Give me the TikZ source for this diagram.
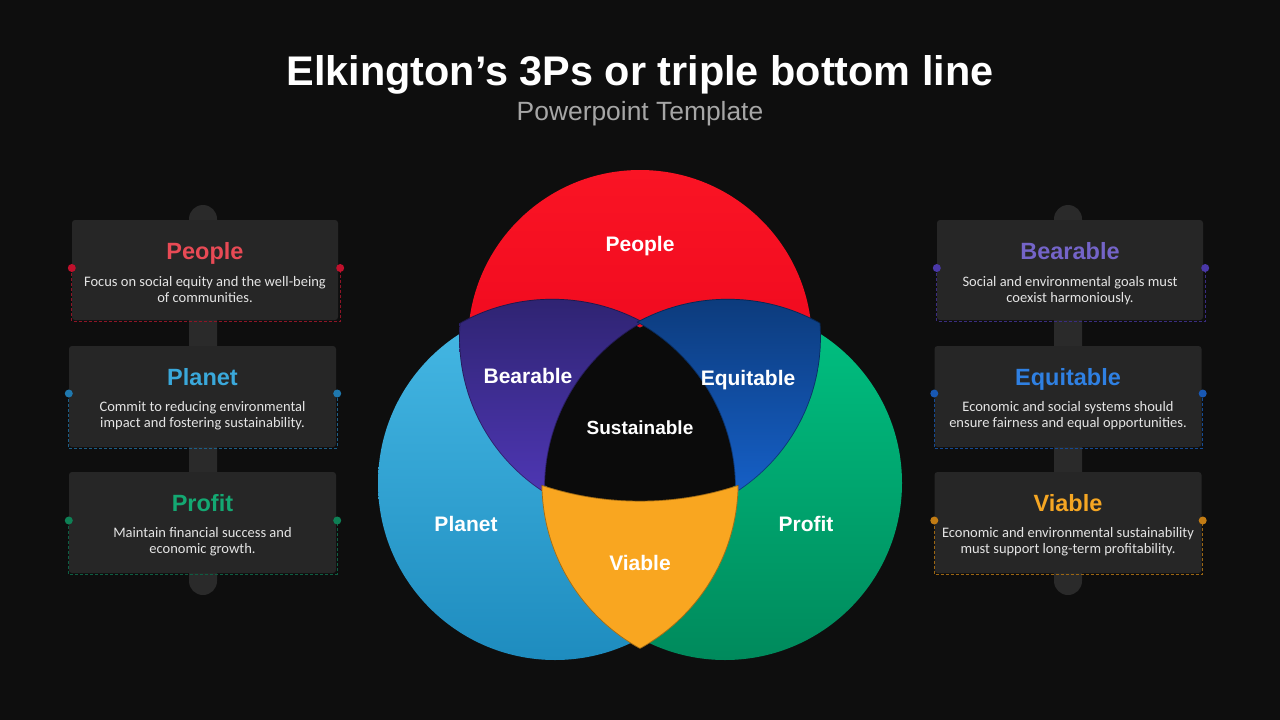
\documentclass[tikz,border=0pt]{standalone}
\usepackage{fontspec}
\setmainfont{Liberation Sans}
\newfontfamily\descfont{Carlito}
\usetikzlibrary{calc}
\definecolor{bg}{HTML}{0E0E0E}
\definecolor{boxbg}{HTML}{262626}
\definecolor{barbg}{HTML}{2A2A2A}
\definecolor{subgray}{HTML}{A6A6A6}
\definecolor{desccol}{HTML}{E4E4E4}
\definecolor{tPeople}{HTML}{E84A55}
\definecolor{tPlanet}{HTML}{3AA8DA}
\definecolor{tProfit}{HTML}{14A872}
\definecolor{tBear}{HTML}{7464C8}
\definecolor{tEquit}{HTML}{2F80E2}
\definecolor{tViable}{HTML}{F5A623}
\definecolor{dPeople}{HTML}{8E1426}
\definecolor{dPlanet}{HTML}{1C5E88}
\definecolor{dProfit}{HTML}{0E5E42}
\definecolor{dBear}{HTML}{3A2C80}
\definecolor{dEquit}{HTML}{154A92}
\definecolor{dViable}{HTML}{9C6612}
\definecolor{oPeople}{HTML}{C0102C}
\definecolor{oPlanet}{HTML}{1F78AE}
\definecolor{oProfit}{HTML}{0E8055}
\definecolor{oBear}{HTML}{4A38A8}
\definecolor{oEquit}{HTML}{1858B4}
\definecolor{oViable}{HTML}{C27C14}
\definecolor{redTop}{HTML}{FA1424}
\definecolor{redBot}{HTML}{E6001A}
\definecolor{bluTop}{HTML}{46B9E5}
\definecolor{bluBot}{HTML}{1E8CBF}
\definecolor{grnTop}{HTML}{00C282}
\definecolor{grnBot}{HTML}{008A5C}
\definecolor{purTop}{HTML}{2E2370}
\definecolor{purBot}{HTML}{5038B8}
\definecolor{eqTop}{HTML}{0C3A7A}
\definecolor{eqBot}{HTML}{1662CC}
\definecolor{viaCol}{HTML}{F9A620}
\definecolor{centerCol}{HTML}{0B0B0B}
\tikzset{
  circA/.style={insert path={(640,342) circle[radius=172]}},
  circB/.style={insert path={(555,483) circle[radius=177]}},
  circC/.style={insert path={(725,483) circle[radius=177]}},
  circD/.style={insert path={(640,209) circle[radius=291]}},
  minusB/.style={insert path={(0,0) -- (0,720) -- (1280,720) -- (1280,0) -- cycle (732,483) arc[start angle=0,end angle=360,radius=177] -- cycle}},
  minusC/.style={insert path={(0,0) -- (0,720) -- (1280,720) -- (1280,0) -- cycle (902,483) arc[start angle=0,end angle=360,radius=177] -- cycle}},
  minusD/.style={insert path={(-400,-400) -- (-400,1200) -- (1700,1200) -- (1700,-400) -- cycle (931,209) arc[start angle=0,end angle=360,radius=291] -- cycle}},
  petaledge/.style={draw=black, draw opacity=0.35, line width=1.4pt},
  vlabel/.style={anchor=base, inner sep=0pt, text=white, font=\bfseries\fontsize{21}{25}\selectfont},
  boxnode/.style={fill=boxbg, rounded corners=3pt, minimum width=266pt, minimum height=100pt, inner sep=0pt},
  boxtitle/.style={anchor=base, inner sep=0pt, font=\bfseries\fontsize{23.5}{28}\selectfont},
  boxdesc/.style={anchor=base, inner sep=0pt, align=center, text=desccol, font=\descfont\fontsize{14.5}{16.5}\selectfont},
  dashline/.style={dashed, dash pattern=on 3pt off 2pt, line width=0.8pt},
  bardot/.style={circle, inner sep=0pt, minimum size=8pt},
}
\begin{document}
\begin{tikzpicture}[x=1pt,y=-1pt]
\fill[bg] (0,0) rectangle (1280,720);
\useasboundingbox (0,0) rectangle (1280,720);

% titles
\node[anchor=base, inner sep=0pt, text=white, font=\bfseries\fontsize{41.4}{49}\selectfont] (title) at (640,85) {Elkington’s 3Ps or triple bottom line};
\node[anchor=base, inner sep=0pt, text=subgray, font=\fontsize{26.4}{30}\selectfont] (subtitle) at (640,120) {Powerpoint Template};

% side bars
\fill[barbg, rounded corners=14pt] (189,205) rectangle (217,595);
\fill[barbg, rounded corners=14pt] (1054,205) rectangle (1082,595);

% ---- left boxes
\node[boxnode] (bPeople) at (205,270) {};
\draw[dashline, draw=dPeople] ([yshift=2pt]bPeople.west) |- ([shift={(2pt,-1pt)}]bPeople.south east) -- ([shift={(2pt,2pt)}]bPeople.east);
\node[bardot, fill=oPeople] (pPeopleL) at ([yshift=2pt]bPeople.west) {};
\node[bardot, fill=oPeople] (pPeopleR) at ([shift={(2pt,2pt)}]bPeople.east) {};
\node[boxtitle, text=tPeople] (hPeople) at (205,259) {People};
\node[boxdesc] (xPeople) at (205,302.5) {Focus on social equity and the well-being\\of communities.};

\node[boxnode, minimum width=267pt, minimum height=101pt] (bPlanet) at (202.5,396.5) {};
\draw[dashline, draw=dPlanet] ([yshift=3pt]bPlanet.west) |- ([shift={(1pt,-1pt)}]bPlanet.south east) -- ([shift={(1pt,3pt)}]bPlanet.east);
\node[bardot, fill=oPlanet] (pPlanetL) at ([yshift=3pt]bPlanet.west) {};
\node[bardot, fill=oPlanet] (pPlanetR) at ([shift={(1pt,3pt)}]bPlanet.east) {};
\node[boxtitle, text=tPlanet] (hPlanet) at (202.5,385) {Planet};
\node[boxdesc] (xPlanet) at (202.5,427.5) {Commit to reducing environmental\\impact and fostering sustainability.};

\node[boxnode, minimum width=267pt, minimum height=101pt] (bProfit) at (202.5,522.5) {};
\draw[dashline, draw=dProfit] ([yshift=2pt]bProfit.west) |- ([shift={(1pt,-1pt)}]bProfit.south east) -- ([shift={(1pt,2pt)}]bProfit.east);
\node[bardot, fill=oProfit] (pProfitL) at ([yshift=2pt]bProfit.west) {};
\node[bardot, fill=oProfit] (pProfitR) at ([shift={(1pt,2pt)}]bProfit.east) {};
\node[boxtitle, text=tProfit] (hProfit) at (202.5,511) {Profit};
\node[boxdesc] (xProfit) at (202.5,553.5) {Maintain financial success and\\economic growth.};

% ---- right boxes
\node[boxnode] (bBear) at (1070,270) {};
\draw[dashline, draw=dBear] ([yshift=2pt]bBear.west) |- ([shift={(2pt,-1pt)}]bBear.south east) -- ([shift={(2pt,2pt)}]bBear.east);
\node[bardot, fill=oBear] (pBearL) at ([yshift=2pt]bBear.west) {};
\node[bardot, fill=oBear] (pBearR) at ([shift={(2pt,2pt)}]bBear.east) {};
\node[boxtitle, text=tBear] (hBear) at (1070,259) {Bearable};
\node[boxdesc] (xBear) at (1070,302.5) {Social and environmental goals must\\coexist harmoniously.};

\node[boxnode, minimum width=267pt, minimum height=101pt] (bEquit) at (1068,396.5) {};
\draw[dashline, draw=dEquit] ([yshift=3pt]bEquit.west) |- ([shift={(1pt,-1pt)}]bEquit.south east) -- ([shift={(1pt,3pt)}]bEquit.east);
\node[bardot, fill=oEquit] (pEquitL) at ([yshift=3pt]bEquit.west) {};
\node[bardot, fill=oEquit] (pEquitR) at ([shift={(1pt,3pt)}]bEquit.east) {};
\node[boxtitle, text=tEquit] (hEquit) at (1068,385) {Equitable};
\node[boxdesc] (xEquit) at (1068,427.5) {Economic and social systems should\\ensure fairness and equal opportunities.};

\node[boxnode, minimum width=267pt, minimum height=101pt] (bViable) at (1068,522.5) {};
\draw[dashline, draw=dViable] ([yshift=2pt]bViable.west) |- ([shift={(1pt,-1pt)}]bViable.south east) -- ([shift={(1pt,2pt)}]bViable.east);
\node[bardot, fill=oViable] (pViableL) at ([yshift=2pt]bViable.west) {};
\node[bardot, fill=oViable] (pViableR) at ([shift={(1pt,2pt)}]bViable.east) {};
\node[boxtitle, text=tViable] (hViable) at (1068,511) {Viable};
\node[boxdesc] (xViable) at (1068,553.5) {Economic and environmental sustainability\\must support long-term profitability.};

% ---- Venn base circles
\shade[top color=redTop, bottom color=redBot, circA];
\shade[top color=bluTop, bottom color=bluBot, circB];
\shade[top color=grnTop, bottom color=grnBot, circC];
% dark lens union (centre)
\begin{scope}
  \path[clip, circA];
  \fill[centerCol, circB];
  \fill[centerCol, circC];
\end{scope}
\begin{scope}
  \path[clip, circB];
  \fill[centerCol, circC];
\end{scope}

% Bearable petal
\begin{scope}[scale around={1.07:(594,408)}, even odd rule]
  \path[clip, circA]; \path[clip, circB];
  \path[clip, minusC];
  \shade[top color=purTop, bottom color=purBot] (440,300) rectangle (660,500);
  \path[petaledge, circA]; \path[petaledge, circB]; \path[petaledge, circC];
\end{scope}
% Equitable petal
\begin{scope}[scale around={1.07:(686,408)}, even odd rule]
  \path[clip, circA]; \path[clip, circC];
  \path[clip, minusB];
  \shade[top color=eqTop, bottom color=eqBot] (620,300) rectangle (840,500);
  \path[petaledge, circA]; \path[petaledge, circB]; \path[petaledge, circC];
\end{scope}
% Viable petal
\begin{scope}[scale around={1.07:(640,488)}, even odd rule]
  \path[clip, circB]; \path[clip, circC];
  \path[clip, minusD];
  \fill[viaCol] (500,470) rectangle (780,670);
  \path[petaledge, circD]; \path[petaledge, circB]; \path[petaledge, circC];
\end{scope}

% Venn labels
\node[vlabel] (lPeople) at (640,251) {People};
\node[vlabel] (lBear) at (528,383) {Bearable};
\node[vlabel] (lEquit) at (748,385) {Equitable};
\node[vlabel, font=\bfseries\fontsize{19}{23}\selectfont] (lSust) at (640,434) {Sustainable};
\node[vlabel] (lPlanet) at (466,531) {Planet};
\node[vlabel] (lProfit) at (806,531) {Profit};
\node[vlabel] (lViable) at (640,570) {Viable};
\end{tikzpicture}
\end{document}
